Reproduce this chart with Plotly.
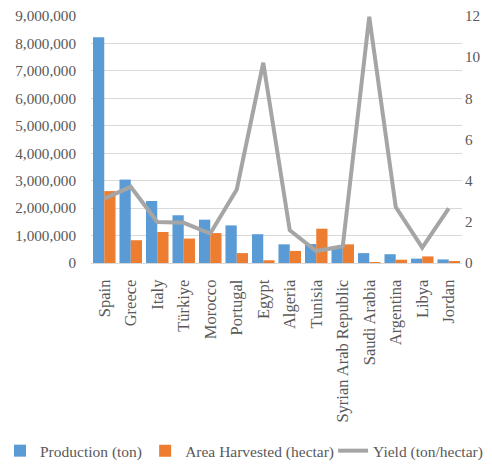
import plotly.graph_objects as go

countries = ["Spain", "Greece", "Italy", "Türkiye", "Morocco", "Portugal", "Egypt",
             "Algeria", "Tunisia", "Syrian Arab Republic", "Saudi Arabia", "Argentina",
             "Libya", "Jordan"]
production = [8230000, 3040000, 2260000, 1740000, 1580000, 1370000, 1050000,
              680000, 690000, 610000, 360000, 320000, 160000, 130000]
area = [2620000, 830000, 1130000, 890000, 1090000, 360000, 100000,
        440000, 1250000, 680000, 30000, 120000, 240000, 60000]
yield_ = [3.13, 3.70, 1.99, 1.95, 1.43, 3.57, 9.73, 1.59, 0.58, 0.81, 11.96, 2.72, 0.75, 2.65]

FONT = "Liberation Serif"
TXT = "#595959"

fig = go.Figure()
fig.add_trace(go.Bar(x=countries, y=production, name="Production (ton)", legend="legend",
                     marker=dict(color="#5B9BD5", line=dict(width=0))))
fig.add_trace(go.Bar(x=countries, y=area, name="Area Harvested (hectar)", legend="legend2",
                     marker=dict(color="#ED7D31", line=dict(width=0))))
fig.add_trace(go.Scatter(x=countries, y=yield_, name="Yield (ton/hectar)", yaxis="y2",
                         legend="legend3",
                         mode="lines", line=dict(color="#A5A5A5", width=4)))

def leg(x):
    return dict(orientation="h", xref="container", yref="container",
                x=x, xanchor="left", y=0.032, yanchor="middle",
                bgcolor="rgba(0,0,0,0)",
                font=dict(family=FONT, size=15.5, color=TXT), itemwidth=30)

fig.update_layout(
    width=492, height=466,
    margin=dict(l=91, r=30, t=16, b=203),
    paper_bgcolor="white", plot_bgcolor="white",
    font=dict(family=FONT, size=16, color=TXT),
    barmode="group", bargap=0.15, bargroupgap=0,
    xaxis=dict(tickangle=-90, showgrid=False, showline=True, linecolor="#D9D9D9",
               linewidth=1, ticks="", automargin=False, ticklabelstandoff=9,
               tickfont=dict(family=FONT, size=16.5, color=TXT)),
    yaxis=dict(range=[0, 9000000], dtick=1000000, tickformat=",", showgrid=True,
               gridcolor="#D9D9D9", gridwidth=1, zeroline=False, ticks="",
               automargin=False, ticklabelstandoff=14,
               tickfont=dict(family=FONT, size=15.2, color=TXT)),
    yaxis2=dict(range=[0, 12], dtick=2, overlaying="y", side="right", showgrid=False,
                zeroline=False, ticks="", automargin=False, ticklabelstandoff=2,
                tickfont=dict(family=FONT, size=15.2, color=TXT)),
    legend=leg(0.0),
    legend2=leg(0.295),
    legend3=leg(0.677),
    showlegend=True,
)

fig.write_html("out.html")
